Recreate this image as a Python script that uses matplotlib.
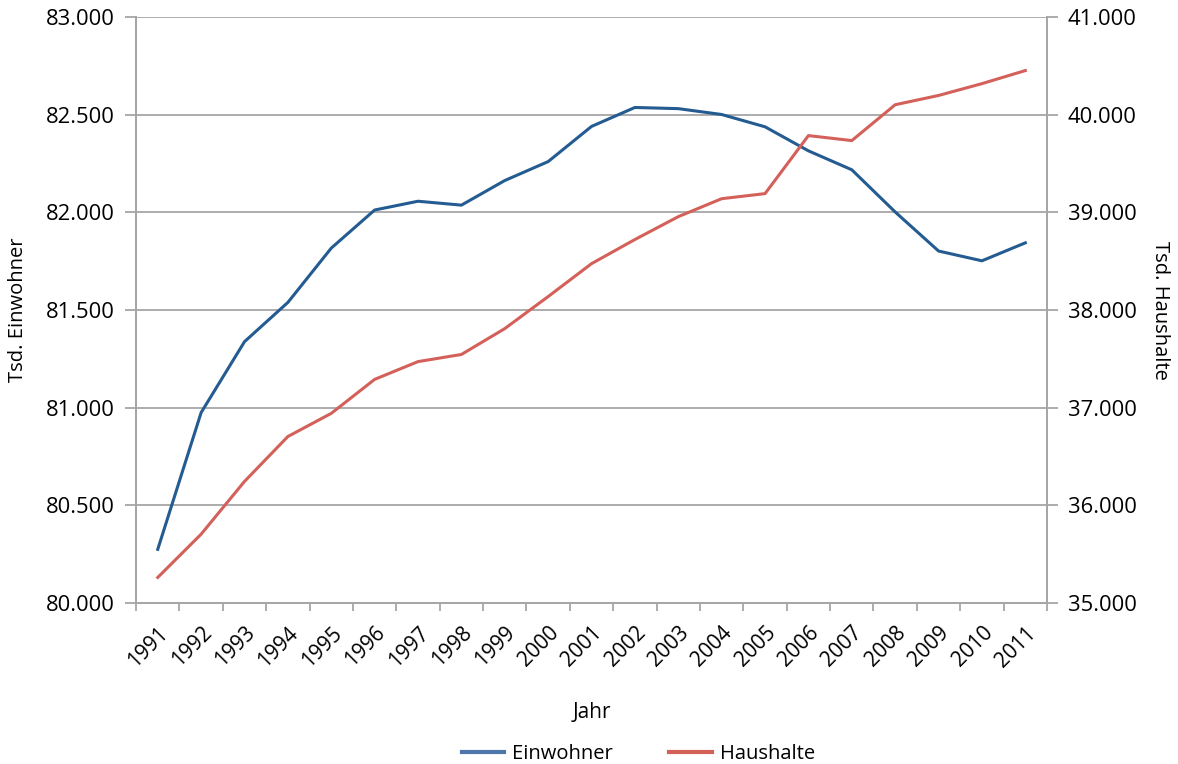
import numpy as np
import matplotlib.pyplot as plt
from matplotlib.ticker import FuncFormatter, FixedLocator
from matplotlib.lines import Line2D

plt.rcParams['font.family'] = ['Open Sans', 'DejaVu Sans']

# Bevoelkerung und Privathaushalte in Deutschland (in Tsd.)
jahre = [str(j) for j in range(1991, 2012)]
einwohner = [80275, 80975, 81338, 81539, 81817, 82012, 82057, 82037, 82163, 82260,
             82440, 82537, 82531, 82501, 82438, 82315, 82218, 82002, 81802, 81752, 81844]
haushalte = [35262, 35705, 36245, 36705, 36942, 37290, 37472, 37545, 37810, 38138,
             38475, 38722, 38956, 39140, 39192, 39786, 39735, 40102, 40197, 40318, 40452]

BLAU = '#245c91'
ROT = '#d4605a'
GRAU = '#a6a6a6'


def fmt(v, pos):
    return f"{int(round(v)):,}".replace(',', '.')


fig = plt.figure(figsize=(11.78, 7.64), dpi=100)
ax = fig.add_axes([0.1155, 0.2107, 0.7733, 0.767])
ax2 = ax.twinx()

x = np.arange(len(jahre))
ax.plot(x, einwohner, color=BLAU, lw=2.2, zorder=3)
ax2.plot(x, haushalte, color=ROT, lw=2.2, zorder=3)

ax.set_xlim(-0.5, len(jahre) - 0.5)
ax.set_ylim(80000, 83000)
ax2.set_ylim(35000, 41000)
ax.set_yticks(np.arange(80000, 83001, 500))
ax2.set_yticks(np.arange(35000, 41001, 1000))
ax.yaxis.set_major_formatter(FuncFormatter(fmt))
ax2.yaxis.set_major_formatter(FuncFormatter(fmt))

ax.grid(axis='y', color=GRAU, lw=1.3)
ax.set_axisbelow(True)

for a in (ax, ax2):
    a.spines['top'].set_visible(False)
    for s in ('left', 'right', 'bottom'):
        a.spines[s].set_color(GRAU)
        a.spines[s].set_linewidth(1.3)

ax.tick_params(axis='y', colors=GRAU, labelcolor='black', labelsize=15.8,
               length=8, width=1.3, pad=7)
ax2.tick_params(axis='y', colors=GRAU, labelcolor='black', labelsize=15.8,
                length=8, width=1.3, pad=7)

# Jahreskategorien: Striche zwischen den Kategorien, Beschriftung mittig
ax.set_xticks(x)
ax.set_xticklabels(jahre, rotation=45, ha='right', rotation_mode='anchor', fontsize=15)
ax.tick_params(axis='x', which='major', length=0, pad=14)
ax.xaxis.set_minor_locator(FixedLocator(np.arange(-0.5, len(jahre), 1.0)))
ax.tick_params(axis='x', which='minor', length=6, width=1.3, color=GRAU)

ax.set_ylabel('Tsd. Einwohner', fontsize=14.5, labelpad=13)
ax2.set_ylabel('Tsd. Haushalte', fontsize=14.5, rotation=270, labelpad=24)
ax.set_xlabel('Jahr', fontsize=15, labelpad=22)

handles = [Line2D([], [], color='#4f76a8', lw=3), Line2D([], [], color=ROT, lw=3)]
fig.legend(handles, ['Einwohner', 'Haushalte'], loc='center', bbox_to_anchor=(0.542, 0.013),
           ncol=2, frameon=False, fontsize=14.5, handlelength=2.1, handletextpad=0.4,
           columnspacing=2.8)

fig.savefig('out.png', dpi=100)
